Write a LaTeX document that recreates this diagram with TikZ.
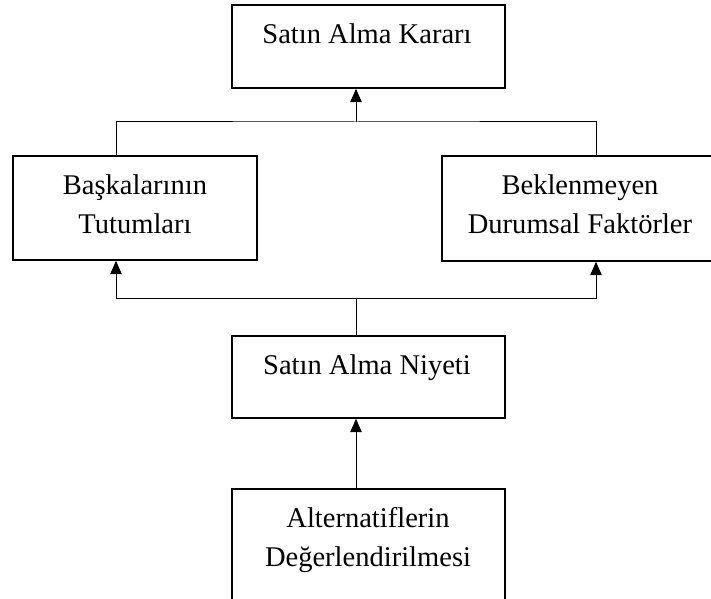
\documentclass[tikz,border=0pt]{standalone}
\usepackage{fontspec}
\setmainfont{Liberation Serif}
\usetikzlibrary{arrows.meta}

\tikzset{every picture/.style={line width=0.75pt}}
\tikzset{
  kutu/.style={draw, rectangle, line width=1.1pt, inner sep=0pt},
  yazi/.style={anchor=north, inner sep=0pt, align=center, font=\fontsize{21.4}{29.25}\selectfont},
  ok/.style={-{Triangle[length=10pt,width=8.5pt]}},
}

\begin{document}
\begin{tikzpicture}[x=0.75pt,y=0.75pt,yscale=-1,xscale=1]
\useasboundingbox (0,0) rectangle (711,599);
\clip (0,0) rectangle (711,599);

%Shape: Rectangle [karar]
\node [kutu, minimum width=204.75pt, minimum height=62.25pt] (karar) at (368.5,46.5) {};
%Shape: Rectangle [tutum]
\node [kutu, minimum width=183pt, minimum height=78pt] (tutum) at (135,208) {};
%Shape: Rectangle [faktor]
\node [kutu, minimum width=207pt, minimum height=78.75pt] (faktor) at (580,208.5) {};
%Shape: Rectangle [niyet]
\node [kutu, minimum width=204.75pt, minimum height=61.5pt] (niyet) at (368.5,377) {};
%Shape: Rectangle [deger]
\node [kutu, minimum width=204.75pt, minimum height=90pt] (deger) at (368.5,549) {};

% Text Node
\node [yazi] (karar-t) at (367,23) {Satın Alma Kararı};
% Text Node
\node [yazi] (tutum-t) at (135,174) {Başkalarının\\Tutumları};
% Text Node
\node [yazi] (faktor-t) at (580,174) {Beklenmeyen\\Durumsal Faktörler};
% Text Node
\node [yazi] (niyet-t) at (367,354) {Satın Alma Niyeti};
% Text Node
\node [yazi] (deger-t) at (368,507) {Alternatiflerin\\Değerlendirilmesi};

%Connector points
\coordinate (ust) at (356,122);
\coordinate (alt) at (356,299);
\coordinate (solx) at (116,0);
\coordinate (sagx) at (596,0);

%Straight Lines
\draw [ok] (ust) -- (ust |- karar.south);
\draw (tutum.north -| solx) |- (ust) -| (faktor.north -| sagx);
\draw (niyet.north -| alt) -- (alt);
\draw [ok] (alt) -| (tutum.south -| solx);
\draw [ok] (alt) -| (faktor.south -| sagx);
\draw [ok] (deger.north -| alt) -- (niyet.south -| alt);
\end{tikzpicture}
\end{document}
